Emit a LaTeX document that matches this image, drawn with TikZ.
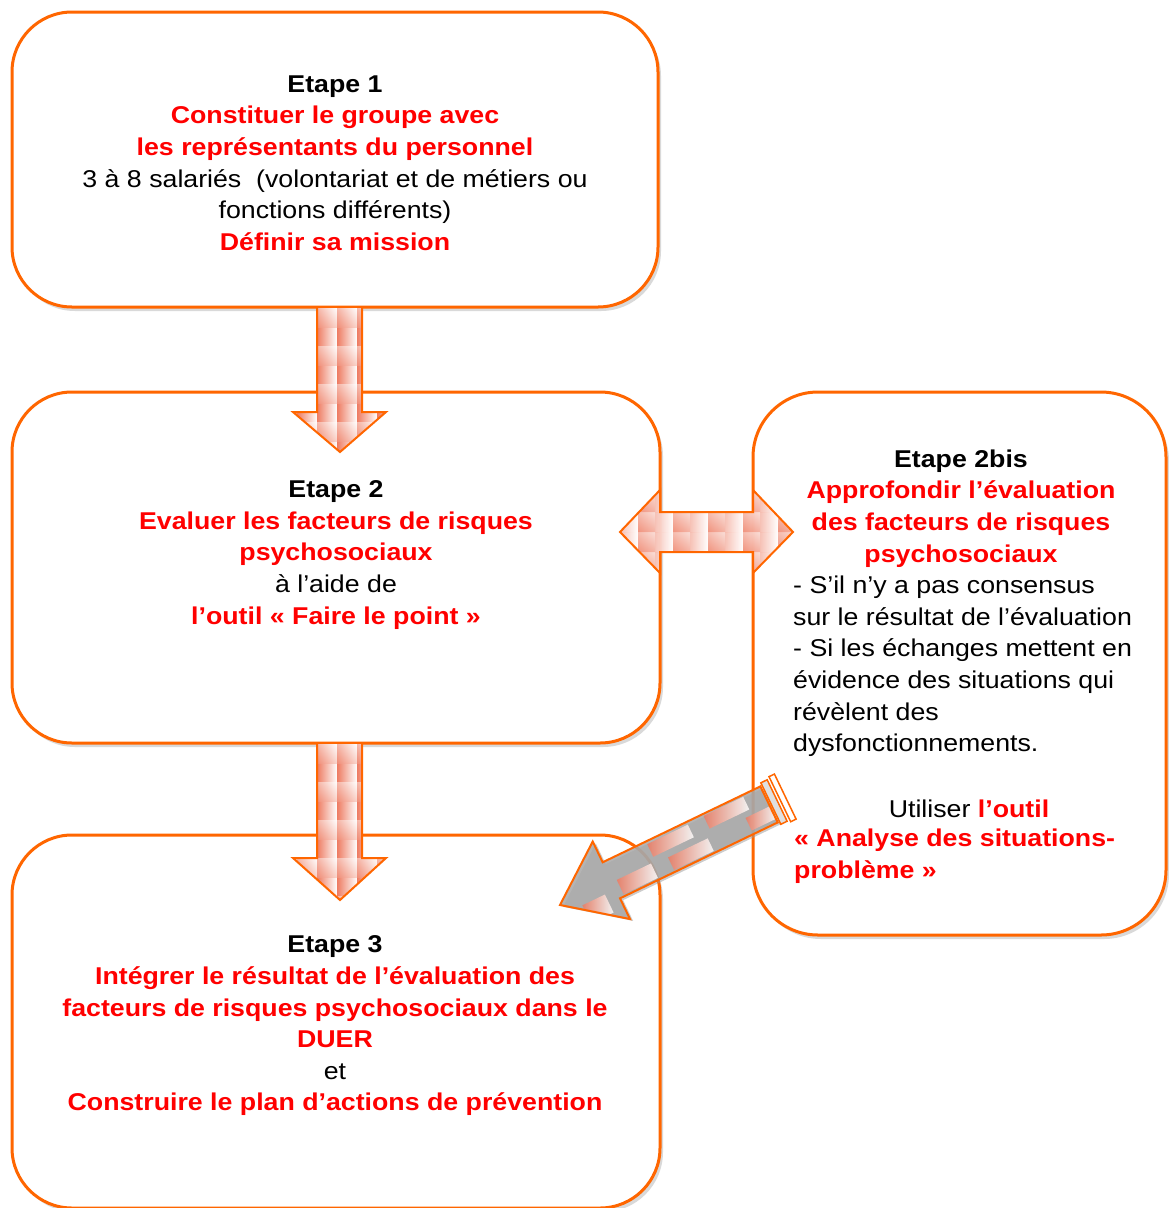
\documentclass[tikz,border=0pt]{standalone}
\usepackage{fontspec}
\setmainfont[FakeStretch=1.1]{Liberation Sans}
\usetikzlibrary{shadows,calc}
\definecolor{orline}{RGB}{255,102,0}
\definecolor{redtxt}{RGB}{255,0,0}
\definecolor{salmon}{RGB}{235,100,70}
\definecolor{arrgray}{RGB}{168,168,168}
\tikzset{
  stepbox/.style={draw=orline, line width=3pt, rounded corners=60pt, fill=white,
    drop shadow={shadow xshift=3pt, shadow yshift=-4pt, opacity=0.25, fill=black!60}},
  txt/.style={font=\fontsize{24.3}{31.6}\selectfont, inner sep=0pt, align=center},
  txtl/.style={font=\fontsize{24.3}{31.6}\selectfont, inner sep=0pt, align=left},
  arrowline/.style={draw=orline, line width=2pt, line join=miter},
  tile/.style={left color=salmon!85, right color=white},
  tileb/.style={top color=white, bottom color=salmon!60, opacity=0.45},
}
\newcommand{\rb}[1]{\textcolor{redtxt}{\textbf{#1}}}
\newcommand{\downblock}[4]{%
  \begin{scope}
    \clip (#1-23,#2) -- (#1+22,#2) -- (#1+22,#3) -- (#1+46,#3) -- (#1,#4) -- (#1-47,#3) -- (#1-23,#3) -- cycle;
    \fill[white] (#1-50,#2) rectangle (#1+50,#4);
    \foreach \i in {0,...,5}{\foreach \j in {0,...,4}{
      \shade[tile] ({#1-63+20*\i},{#2+38*\j}) rectangle ++(20,38);
      \shade[tileb] ({#1-63+20*\i},{#2+38*\j}) rectangle ++(20,19);}}
  \end{scope}
  \draw[arrowline] (#1-23,#2) -- (#1-23,#3) -- (#1-47,#3) -- (#1,#4) -- (#1+46,#3) -- (#1+22,#3) -- (#1+22,#2);
}
\begin{document}
\begin{tikzpicture}[x=1pt,y=-1pt]
\useasboundingbox (0,0) rectangle (1168,1208);
% boxes
\node[stepbox, minimum width=646pt, minimum height=295pt] (b1) at (335,159.5) {};
\node[stepbox, minimum width=648pt, minimum height=351pt] (b2) at (336,567.5) {};
\node[stepbox, minimum width=413pt, minimum height=543pt, rounded corners=65pt] (b2b) at (959.5,663.5) {};
\node[stepbox, minimum width=648pt, minimum height=373pt] (b3) at (336,1021.5) {};
% texts
\node[txt] (t1) at (335,163) {\textbf{Etape 1}\\ \rb{Constituer le groupe avec}\\ \rb{les représentants du personnel}\\ 3 à 8 salariés~ (volontariat et de métiers ou\\ fonctions différents)\\ \rb{Définir sa mission}};
\node[txt] (t2) at (336,555) {\textbf{Etape 2}\\ \rb{Evaluer les facteurs de risques}\\ \rb{psychosociaux}\\ à l’aide de\\ \rb{l’outil « Faire le point »}};
\node[txt] (t3) at (335,1026) {\textbf{Etape 3}\\ \rb{Intégrer le résultat de l’évaluation des}\\ \rb{facteurs de risques psychosociaux dans le}\\ \rb{DUER}\\ et\\ \rb{Construire le plan d’actions de prévention}};
\node[txt] (t2bh) at (961,508.5) {\textbf{Etape 2bis}\\ \rb{Approfondir l’évaluation}\\ \rb{des facteurs de risques}\\ \rb{psychosociaux}};
\node[txtl, anchor=west] (t2bb) at (793,666.5) {- S’il n’y a pas consensus\\ sur le résultat de l’évaluation\\ - Si les échanges mettent en\\ évidence des situations qui\\ révèlent des\\ dysfonctionnements.};
\node[txt] (t2bu) at (969,809) {Utiliser \rb{l’outil}};
\node[txtl, anchor=west] (t2bt) at (794,856.5) {\rb{« Analyse des situations-}\\ \rb{problème »}};
% vertical block arrows
\downblock{340}{308}{412}{452}
\downblock{340}{744}{858}{900}
% double arrow
\begin{scope}
  \clip (620,532) -- (660,490) -- (660,512) -- (753,512) -- (753,490) -- (793,532) -- (753,573) -- (753,552) -- (660,552) -- (660,573) -- cycle;
  \fill[white, opacity=0.8] (615,485) rectangle (800,580);
  \foreach \i in {0,...,5}{\foreach \j in {0,...,4}{
    \shade[tile, opacity=0.9] ({603+35*\i},{472+20*\j}) rectangle ++(35,20);
    \shade[tileb] ({603+35*\i},{472+20*\j}) rectangle ++(17,20);}}
\end{scope}
\draw[arrowline] (620,532) -- (660,490) -- (660,512) -- (753,512) -- (753,490) -- (793,532) -- (753,573) -- (753,552) -- (660,552) -- (660,573) -- cycle;
% diagonal arrow
\begin{scope}[shift={(560,905)}, rotate=25.7]
  \fill[black!40, opacity=0.5] (2,3) -- (59,-40) -- (59,-17) -- (234,-17) -- (234,23) -- (59,23) -- (59,46) -- cycle;
  \begin{scope}[opacity=0.85]
    \clip (0,0) -- (57,-43) -- (57,-20) -- (232,-20) -- (232,20) -- (57,20) -- (57,43) -- cycle;
    \fill[arrgray] (-5,-50) rectangle (240,50);
    \shade[tile] (62,2) rectangle (100,18);
    \shade[tile] (20,10) rectangle (45,30);
    \shade[tile] (105,-17) rectangle (150,-3);
    \shade[tile] (118,4) rectangle (162,18);
    \shade[tile] (168,-18) rectangle (212,-4);
    \shade[tile] (205,2) rectangle (232,16);
  \end{scope}
  \draw[arrowline] (0,0) -- (57,-43) -- (57,-20) -- (232,-20) -- (232,20) -- (57,20) -- (57,43) -- cycle;
  \draw[draw=orline, line width=1.5pt, fill=arrgray!60, fill opacity=0.6] (234,-23) rectangle (241,23);
  \draw[draw=orline, line width=1.5pt] (244,-25) rectangle (250,25);
\end{scope}
\end{tikzpicture}
\end{document}
